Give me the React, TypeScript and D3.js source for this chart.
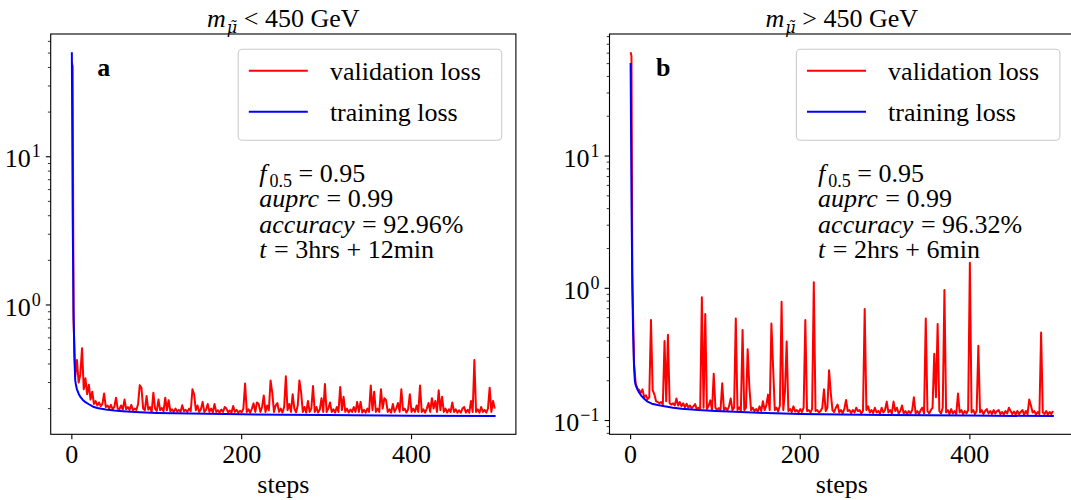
import * as d3 from 'd3';

// Loss values (red = validation, blue = training).
// Validation loss: steps 0, 1, then every second step 2..498.
const valLossLow = [
  43.4, 40.5,
  0.8, 0.33, 0.425, 0.3, 0.34, 0.51, 0.27, 0.32, 0.25, 0.29,
  0.23, 0.26, 0.215, 0.225, 0.21, 0.22, 0.208, 0.215, 0.253, 0.205,
  0.21, 0.2, 0.212, 0.198, 0.205, 0.237, 0.2, 0.198, 0.21, 0.197,
  0.23, 0.198, 0.205, 0.196, 0.212, 0.195, 0.2, 0.196, 0.215, 0.288,
  0.275, 0.2, 0.195, 0.243, 0.197, 0.205, 0.19, 0.256, 0.2, 0.193,
  0.23, 0.195, 0.202, 0.192, 0.237, 0.195, 0.228, 0.192, 0.198, 0.19,
  0.2, 0.191, 0.196, 0.19, 0.211, 0.192, 0.196, 0.19, 0.2, 0.192,
  0.27, 0.25, 0.195, 0.21, 0.19, 0.198, 0.222, 0.19, 0.196, 0.215,
  0.19, 0.2, 0.189, 0.215, 0.19, 0.195, 0.188, 0.197, 0.19, 0.205,
  0.2, 0.189, 0.194, 0.188, 0.208, 0.19, 0.196, 0.188, 0.193, 0.189,
  0.2, 0.295, 0.19, 0.198, 0.188, 0.2, 0.217, 0.19, 0.22, 0.215,
  0.19, 0.205, 0.245, 0.19, 0.21, 0.195, 0.31, 0.256, 0.19, 0.21,
  0.218, 0.19, 0.2, 0.188, 0.205, 0.33, 0.195, 0.215, 0.19, 0.25,
  0.2, 0.189, 0.21, 0.31, 0.256, 0.19, 0.205, 0.188, 0.225, 0.19,
  0.2, 0.284, 0.19, 0.205, 0.188, 0.197, 0.235, 0.19, 0.293, 0.19,
  0.2, 0.22, 0.19, 0.198, 0.188, 0.205, 0.19, 0.28, 0.195, 0.24,
  0.19, 0.2, 0.188, 0.197, 0.19, 0.205, 0.19, 0.222, 0.19, 0.222,
  0.188, 0.196, 0.188, 0.2, 0.19, 0.286, 0.195, 0.26, 0.19, 0.2,
  0.19, 0.27, 0.2, 0.235, 0.228, 0.19, 0.198, 0.188, 0.215, 0.19,
  0.2, 0.218, 0.19, 0.27, 0.195, 0.2, 0.188, 0.198, 0.25, 0.19,
  0.2, 0.19, 0.21, 0.19, 0.286, 0.19, 0.198, 0.188, 0.2, 0.218,
  0.19, 0.235, 0.2, 0.225, 0.19, 0.266, 0.195, 0.24, 0.19, 0.2,
  0.188, 0.198, 0.19, 0.22, 0.19, 0.198, 0.188, 0.195, 0.188, 0.2,
  0.205, 0.188, 0.196, 0.188, 0.225, 0.19, 0.425, 0.19, 0.198, 0.188,
  0.205, 0.19, 0.196, 0.188, 0.2, 0.277, 0.19, 0.225, 0.2,
];

const valLossHigh = [
  61, 57,
  1.3, 0.27, 0.19, 0.175, 0.17, 0.162, 0.172, 0.15, 0.155, 0.145,
  0.15, 0.575, 0.17, 0.158, 0.14, 0.138, 0.135, 0.138, 0.133, 0.4,
  0.14, 0.445, 0.135, 0.132, 0.135, 0.13, 0.147, 0.13, 0.138, 0.128,
  0.135, 0.126, 0.134, 0.125, 0.13, 0.124, 0.128, 0.133, 0.122, 0.125,
  0.12, 0.855, 0.125, 0.638, 0.122, 0.13, 0.142, 0.12, 0.226, 0.125,
  0.12, 0.124, 0.12, 0.191, 0.12, 0.125, 0.119, 0.128, 0.147, 0.12,
  0.125, 0.592, 0.12, 0.126, 0.118, 0.483, 0.12, 0.125, 0.346, 0.18,
  0.12, 0.125, 0.118, 0.122, 0.117, 0.128, 0.118, 0.14, 0.12, 0.13,
  0.157, 0.12, 0.542, 0.254, 0.12, 0.125, 0.117, 0.13, 0.792, 0.12,
  0.166, 0.396, 0.118, 0.122, 0.116, 0.128, 0.117, 0.12, 0.115, 0.122,
  0.116, 0.125, 0.575, 0.118, 0.12, 0.115, 0.122, 1.11, 0.118, 0.12,
  0.115, 0.118, 0.125, 0.172, 0.118, 0.125, 0.24, 0.162, 0.12, 0.116,
  0.125, 0.132, 0.115, 0.12, 0.114, 0.122, 0.143, 0.118, 0.12, 0.114,
  0.12, 0.115, 0.125, 0.118, 0.12, 0.113, 0.118, 0.697, 0.12, 0.128,
  0.115, 0.12, 0.114, 0.125, 0.115, 0.118, 0.113, 0.125, 0.115, 0.12,
  0.139, 0.115, 0.12, 0.113, 0.139, 0.118, 0.125, 0.113, 0.118, 0.13,
  0.113, 0.118, 0.112, 0.118, 0.113, 0.12, 0.15, 0.113, 0.118, 0.112,
  0.12, 0.125, 0.113, 0.59, 0.118, 0.113, 0.12, 0.125, 0.32, 0.15,
  0.536, 0.118, 0.113, 0.125, 0.97, 0.115, 0.12, 0.112, 0.122, 0.113,
  0.118, 0.112, 0.16, 0.115, 0.12, 0.112, 0.118, 0.113, 0.12, 1.56,
  0.115, 0.12, 0.112, 0.118, 0.367, 0.115, 0.12, 0.112, 0.118, 0.122,
  0.113, 0.118, 0.112, 0.12, 0.113, 0.118, 0.12, 0.112, 0.116, 0.111,
  0.118, 0.113, 0.125, 0.118, 0.112, 0.117, 0.111, 0.118, 0.112, 0.116,
  0.12, 0.111, 0.118, 0.112, 0.144, 0.13, 0.115, 0.118, 0.111, 0.116,
  0.112, 0.463, 0.115, 0.112, 0.118, 0.111, 0.116, 0.112, 0.118,
];

// Training loss is smooth, so it is kept at the steps where it bends.
const trainStepsLow = [0, 1, 2, 3, 4, 5, 6, 8, 10, 13, 16, 20, 25, 30, 40, 50, 60, 80, 100, 140, 200, 250, 300, 400, 499];
const trainLossLow = [50.7, 4.0, 0.9, 0.45, 0.31, 0.285, 0.27, 0.252, 0.24, 0.229, 0.221, 0.214, 0.206, 0.202, 0.197, 0.194, 0.192, 0.189, 0.187, 0.185, 0.183, 0.182, 0.181, 0.179, 0.178];

const trainStepsHigh = [0, 1, 2, 3, 4, 5, 6, 8, 10, 13, 16, 20, 25, 32, 40, 50, 60, 80, 100, 130, 160, 200, 250, 300, 400, 499];
const trainLossHigh = [50.6, 5.0, 1.0, 0.45, 0.26, 0.2, 0.185, 0.172, 0.163, 0.153, 0.146, 0.139, 0.134, 0.131, 0.128, 0.125, 0.123, 0.12, 0.118, 0.116, 0.114, 0.112, 0.111, 0.11, 0.109, 0.108];

const xTicks = [0, 200, 400];
const metricsLow = ['0.95', '0.99', '92.96%', '3hrs + 12min'];
const metricsHigh = ['0.95', '0.99', '96.32%', '2hrs + 6min'];

const FONT = '"Liberation Serif", "DejaVu Serif", serif';
const NB = '\u00a0';
const TOP = 34;
const BOTTOM = 434.3;

type Pt = [number, number];

const valSteps = (vals: number[]) => vals.map((_, i) => (i < 2 ? i : (i - 1) * 2));

type PanelProps = {
  left: number;
  right: number;
  cmp: string;
  tag: string;
  metrics: string[];
  val: number[];
  trainSteps: number[];
  train: number[];
};

const Panel = ({ left, right, cmp, tag, metrics, val, trainSteps, train }: PanelProps) => {
  const vSteps = valSteps(val);
  const valPts: Pt[] = val.map((v, i) => [vSteps[i], v]);
  const trainPts: Pt[] = train.map((v, i) => [trainSteps[i], v]);

  const sMax = d3.max(vSteps) as number;
  const x = d3.scaleLinear().domain([-sMax * 0.05, sMax * 1.05]).range([left, right]);

  const all = [...val, ...train];
  const lo = Math.log10(d3.min(all) as number);
  const hi = Math.log10(d3.max(all) as number);
  const pad = (hi - lo) * 0.05;
  const y = d3.scaleLog().domain([10 ** (lo - pad), 10 ** (hi + pad)]).range([BOTTOM, TOP]);

  const line = d3.line<Pt>().x((d) => x(d[0])).y((d) => y(d[1]));

  const yTicks = y.ticks();
  const isMajor = (v: number) => Math.abs(Math.log10(v) - Math.round(Math.log10(v))) < 1e-6;

  const cx = (left + right) / 2;
  const legX = right - 14.2 - 263.5;
  const legY = 49.3;
  const annX = left + 208.6;
  const annY = [181.7, 207.2, 232.7, 258.2];

  return (
    <g style={{ fontFamily: FONT }} fill='#000'>
      {/* title */}
      <text x={cx} y={26.7} textAnchor='middle' fontSize={26}>
        <tspan fontStyle='italic'>m</tspan>
        <tspan fontStyle='italic' fontSize={16} dx={1} dy={6} style={{ fontFamily: '"DejaVu Serif", serif' }}>
          {'\u03bc\u0303'}
        </tspan>
        <tspan dy={-6}>{`${NB}${cmp}${NB}450${NB}GeV`}</tspan>
      </text>

      {/* data */}
      <path d={line(valPts) ?? ''} fill='none' stroke='#ff0000' strokeWidth={2} strokeLinejoin='round' />
      <path d={line(trainPts) ?? ''} fill='none' stroke='#0000ff' strokeWidth={2} strokeLinejoin='round' />

      {/* frame */}
      <rect x={left} y={TOP} width={right - left} height={BOTTOM - TOP} fill='none' stroke='#000' strokeWidth={1.1} />

      {/* x axis */}
      {xTicks.map((t) => (
        <g key={t}>
          <line x1={x(t)} x2={x(t)} y1={BOTTOM} y2={BOTTOM + 4.9} stroke='#000' strokeWidth={1.1} />
          <text x={x(t)} y={462.5} textAnchor='middle' fontSize={26}>
            {t}
          </text>
        </g>
      ))}
      <text x={cx} y={492.5} textAnchor='middle' fontSize={26}>
        steps
      </text>

      {/* y axis, log */}
      {yTicks.map((t) => {
        const major = isMajor(t);
        const e = Math.round(Math.log10(t));
        return (
          <g key={t}>
            <line
              x1={left - (major ? 4.9 : 2.8)}
              x2={left}
              y1={y(t)}
              y2={y(t)}
              stroke='#000'
              strokeWidth={major ? 1.1 : 0.8}
            />
            {major && (
              <text x={left - 10} y={y(t) + 10.7} textAnchor='end' fontSize={26}>
                10
                <tspan fontSize={18} dx={1} dy={-10}>
                  {e < 0 ? `\u2212${-e}` : `${e}`}
                </tspan>
              </text>
            )}
          </g>
        );
      })}

      {/* panel tag */}
      <text x={left + 46.6} y={76} fontSize={26} fontWeight='bold'>
        {tag}
      </text>

      {/* legend */}
      <rect x={legX} y={legY} width={263.5} height={90.9} rx={4} fill='#fff' fillOpacity={0.8} stroke='#ccc' strokeWidth={1.1} />
      {[
        { c: '#ff0000', t: 'validation loss', dy: 21.4 },
        { c: '#0000ff', t: 'training loss', dy: 62.4 },
      ].map((r) => (
        <g key={r.t}>
          <line x1={legX + 10.6} x2={legX + 69.6} y1={legY + r.dy} y2={legY + r.dy} stroke={r.c} strokeWidth={2} />
          <text x={legX + 91.7} y={legY + r.dy + 9} fontSize={26}>
            {r.t}
          </text>
        </g>
      ))}

      {/* metrics */}
      <g fontSize={26}>
        <text x={annX} y={annY[0]}>
          <tspan fontStyle='italic'>f</tspan>
          <tspan fontSize={18} dx={3} dy={5}>
            0.5
          </tspan>
          <tspan dy={-5}>{`${NB}=${NB}${metrics[0]}`}</tspan>
        </text>
        <text x={annX} y={annY[1]}>
          <tspan fontStyle='italic'>auprc</tspan>
          <tspan dx={1}>{`${NB}=${NB}${metrics[1]}`}</tspan>
        </text>
        <text x={annX} y={annY[2]}>
          <tspan fontStyle='italic'>accuracy</tspan>
          <tspan dx={1}>{`${NB}=${NB}${metrics[2]}`}</tspan>
        </text>
        <text x={annX} y={annY[3]}>
          <tspan fontStyle='italic'>t</tspan>
          <tspan dx={1}>{`${NB}=${NB}${metrics[3].replace(/ /g, NB)}`}</tspan>
        </text>
      </g>
    </g>
  );
};

const App = () => {
  return (
    <svg
      width={1071}
      height={500}
      style={{ position: 'absolute', left: 0, top: 0, display: 'block', background: '#fff' }}
    >
      <rect width={1071} height={500} fill='#fff' />
      <Panel
        left={50.7}
        right={515.9}
        cmp='<'
        tag='a'
        metrics={metricsLow}
        val={valLossLow}
        trainSteps={trainStepsLow}
        train={trainLossLow}
      />
      <Panel
        left={609.5}
        right={1074.1}
        cmp='>'
        tag='b'
        metrics={metricsHigh}
        val={valLossHigh}
        trainSteps={trainStepsHigh}
        train={trainLossHigh}
      />
    </svg>
  );
};

export default App;
